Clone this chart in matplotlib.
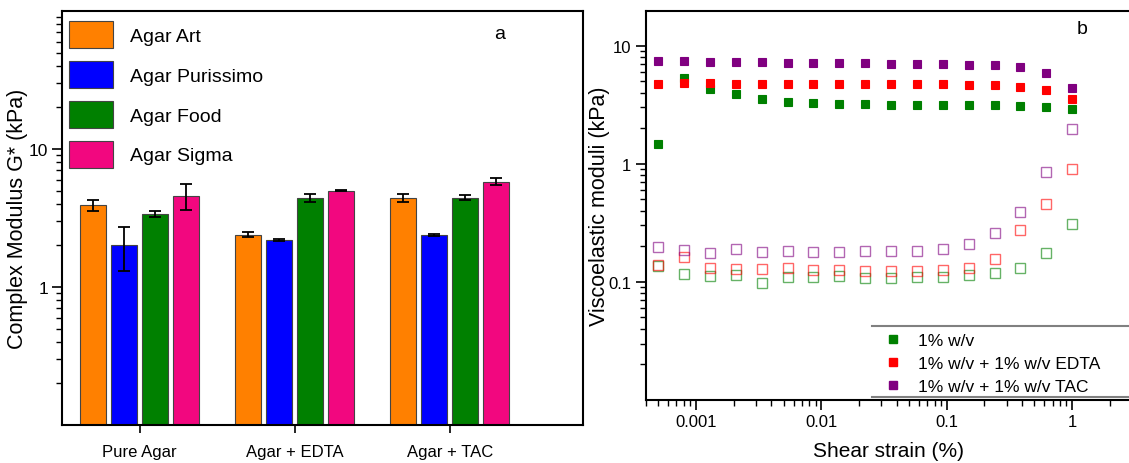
import numpy as np
import matplotlib.pyplot as plt
from matplotlib.lines import Line2D
from matplotlib.ticker import LogLocator, NullFormatter, FixedLocator, FixedFormatter

plt.rcParams['font.family'] = ['Liberation Sans', 'DejaVu Sans']

# panel a: complex modulus per agar type and formulation
groups = ['Pure Agar', 'Agar + EDTA', 'Agar + TAC']
agars = ['Agar Art', 'Agar Purissimo', 'Agar Food', 'Agar Sigma']
bar_colors = ['#FF8000', '#0000FF', '#008000', '#F2077F']
g_art = [3.9, 2.4, 4.4]
g_art_err = [0.35, 0.1, 0.3]
g_pur = [2.0, 2.2, 2.39]
g_pur_err = [0.7, 0.03, 0.03]
g_food = [3.38, 4.4, 4.45]
g_food_err = [0.18, 0.3, 0.2]
g_sigma = [4.6, 5.0, 5.8]
g_sigma_err = [1.0, 0.03, 0.35]

# panel b: strain sweep
strain = [0.0005, 0.000804, 0.00129, 0.00208, 0.00334, 0.00538, 0.00865, 0.0139,
          0.0224, 0.036, 0.0578, 0.093, 0.1495, 0.2405, 0.387, 0.622, 1.0]
gp_plain = [1.47, 5.33, 4.30, 3.86, 3.56, 3.34, 3.26, 3.21, 3.17, 3.15, 3.15, 3.11,
            3.11, 3.11, 3.08, 2.99, 2.88]
gp_edta = [4.77, 4.80, 4.83, 4.77, 4.77, 4.74, 4.74, 4.71, 4.71, 4.71, 4.71, 4.68,
           4.65, 4.62, 4.50, 4.22, 3.52]
gp_tac = [7.42, 7.37, 7.28, 7.23, 7.19, 7.14, 7.14, 7.09, 7.05, 7.00, 7.00, 6.96,
          6.87, 6.78, 6.52, 5.91, 4.36]
gpp_plain = [0.135, 0.116, 0.112, 0.115, 0.098, 0.110, 0.110, 0.112, 0.108, 0.108,
             0.110, 0.110, 0.114, 0.118, 0.130, 0.177, 0.309]
gpp_edta = [0.138, 0.163, 0.130, 0.128, 0.128, 0.131, 0.126, 0.126, 0.123, 0.123,
            0.123, 0.126, 0.130, 0.157, 0.277, 0.453, 0.908]
gpp_tac = [0.199, 0.185, 0.176, 0.189, 0.179, 0.183, 0.179, 0.179, 0.183, 0.183,
           0.183, 0.191, 0.211, 0.259, 0.391, 0.851, 1.98]
line_labels = ['1% w/v', '1% w/v + 1% w/v EDTA', '1% w/v + 1% w/v TAC']
line_colors = ['#008000', '#FF0000', '#800080']


def main():
    fig = plt.figure(figsize=(11.29, 4.64), dpi=100)
    W, H = 1129, 464
    ax = fig.add_axes([62 / W, 1 - 426 / H, (583 - 62) / W, (426 - 12) / H])
    bx = fig.add_axes([646 / W, 1 - 401 / H, (1132 - 646) / W, (401 - 12) / H])

    # ---- panel a
    x = np.arange(len(groups))
    vals = [g_art, g_pur, g_food, g_sigma]
    errs = [g_art_err, g_pur_err, g_food_err, g_sigma_err]
    handles = []
    for i, (v, e, c) in enumerate(zip(vals, errs, bar_colors)):
        b = ax.bar(x + (i - 1.5) * 0.2, v, 0.165, color=c, edgecolor='#444444',
                   linewidth=0.8, yerr=e, capsize=4,
                   error_kw=dict(ecolor='black', elinewidth=1.3, capthick=1.3))
        handles.append(b)
    ax.set_yscale('log')
    ax.set_ylim(0.1, 100)
    ax.set_xlim(-0.5, 2.86)
    ax.yaxis.set_major_locator(FixedLocator([1, 10]))
    ax.yaxis.set_major_formatter(FixedFormatter(['1', '10']))
    ax.yaxis.set_minor_locator(LogLocator(base=10, subs=np.arange(2, 10)))
    ax.yaxis.set_minor_formatter(NullFormatter())
    ax.set_xticks(x)
    ax.set_xticklabels(groups, fontsize=12)
    ax.tick_params(axis='y', which='major', length=7, width=1.2, labelsize=12.5, pad=3)
    ax.tick_params(axis='y', which='minor', length=4, width=1)
    ax.tick_params(axis='x', length=6, width=1.2, pad=8)
    for s in ax.spines.values():
        s.set_linewidth(1.5)
    ax.set_ylabel('Complex Modulus G* (kPa)', fontsize=15.5)
    ax.yaxis.set_label_coords(-0.066, 0.5)
    ax.legend(handles, agars, loc='upper left', bbox_to_anchor=(0.0134, 0.975),
              frameon=False, fontsize=14,
              handlelength=2.26, handleheight=1.755, labelspacing=0.66,
              handletextpad=0.87, borderaxespad=0.0, borderpad=0.0)
    ax.text(438 / 521, 0.945, 'a', transform=ax.transAxes, fontsize=14,
            ha='center', va='center')

    # ---- panel b
    for gp, gpp, c in zip([gp_plain, gp_edta, gp_tac], [gpp_plain, gpp_edta, gpp_tac], line_colors):
        bx.plot(strain, gp, 's', color=c, markersize=6, markeredgewidth=0.8)
        bx.plot(strain, gpp, 's', markerfacecolor='none', markeredgecolor=c,
                markersize=6.5, markeredgewidth=1, alpha=0.6)
    bx.set_xscale('log')
    bx.set_yscale('log')
    bx.set_xlim(4e-4, 3.0)
    bx.set_ylim(0.01, 19.6)
    bx.xaxis.set_major_locator(FixedLocator([0.001, 0.01, 0.1, 1]))
    bx.xaxis.set_major_formatter(FixedFormatter(['0.001', '0.01', '0.1', '1']))
    bx.xaxis.set_minor_locator(LogLocator(base=10, subs=np.arange(2, 10)))
    bx.xaxis.set_minor_formatter(NullFormatter())
    bx.yaxis.set_major_locator(FixedLocator([0.1, 1, 10]))
    bx.yaxis.set_major_formatter(FixedFormatter(['0.1', '1', '10']))
    bx.yaxis.set_minor_locator(LogLocator(base=10, subs=np.arange(2, 10)))
    bx.yaxis.set_minor_formatter(NullFormatter())
    bx.tick_params(which='major', length=7, width=1.2, labelsize=12)
    bx.tick_params(which='minor', length=4, width=1)
    bx.tick_params(axis='x', pad=3)
    for s in bx.spines.values():
        s.set_linewidth(1.5)
    bx.spines['right'].set_visible(False)
    bx.set_xlabel('Shear strain (%)', fontsize=15, labelpad=9)
    bx.set_ylabel('Viscoelastic moduli (kPa)', fontsize=15.5)
    bx.yaxis.set_label_coords(-0.075, 0.5)
    bx.text(436 / 486, 0.955, 'b', transform=bx.transAxes, fontsize=14,
            ha='center', va='center')
    leg_h = [Line2D([], [], marker='s', linestyle='none', color=c, markersize=6)
             for c in line_colors]
    bx.legend(leg_h, line_labels, loc='upper left', bbox_to_anchor=(0.49, 0.172),
              frameon=False, fontsize=12.5, handlelength=1.0, handletextpad=0.94,
              labelspacing=0.45, borderaxespad=0.0, borderpad=0.0)
    for yy in [0.190, 0.0077]:
        bx.plot([0.465, 1.0], [yy, yy], transform=bx.transAxes, color='#808080',
                linewidth=1.5, clip_on=False)

    plt.savefig('out.png', dpi=100)


if __name__ == '__main__':
    main()
